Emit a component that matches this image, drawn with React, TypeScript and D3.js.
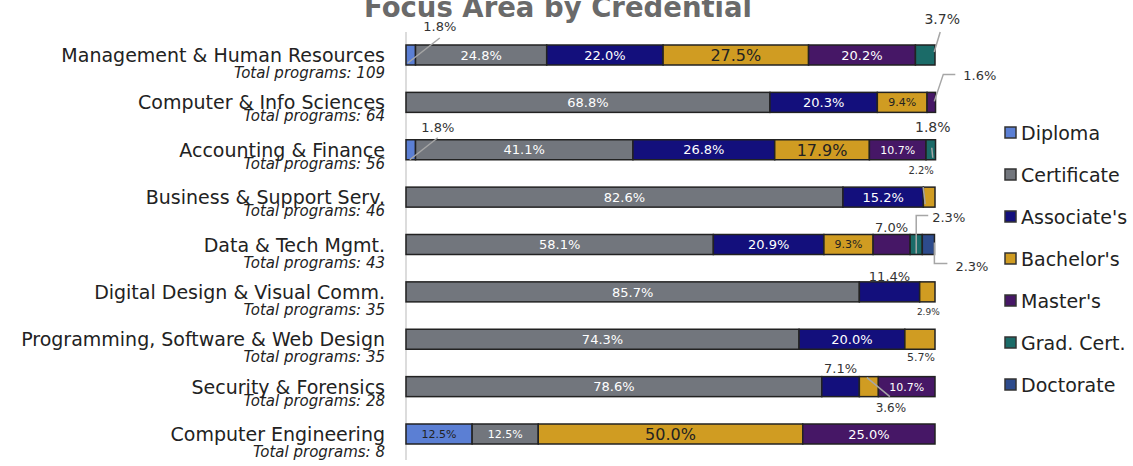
import React from "react";
import * as d3 from "d3";

const categories = [
  "Management & Human Resources",
  "Computer & Info Sciences",
  "Accounting & Finance",
  "Business & Support Serv.",
  "Data & Tech Mgmt.",
  "Digital Design & Visual Comm.",
  "Programming, Software & Web Design",
  "Security & Forensics",
  "Computer Engineering",
];
const totals = [109, 64, 56, 46, 43, 35, 35, 28, 8];
const seriesNames = ["Diploma", "Certificate", "Associate's", "Bachelor's", "Master's", "Grad. Cert.", "Doctorate"];
const diploma = [1.8, 0, 1.8, 0, 0, 0, 0, 0, 12.5];
const certificate = [24.8, 68.8, 41.1, 82.6, 58.1, 85.7, 74.3, 78.6, 12.5];
const associates = [22.0, 20.3, 26.8, 15.2, 20.9, 11.4, 20.0, 7.1, 0];
const bachelors = [27.5, 9.4, 17.9, 2.2, 9.3, 2.9, 5.7, 3.6, 50.0];
const masters = [20.2, 1.6, 10.7, 0, 7.0, 0, 0, 10.7, 25.0];
const gradCert = [3.7, 0, 1.8, 0, 2.3, 0, 0, 0, 0];
const doctorate = [0, 0, 0, 0, 2.3, 0, 0, 0, 0];
const seriesValues = [diploma, certificate, associates, bachelors, masters, gradCert, doctorate];
const colors = ["#5b7fd4", "#72767d", "#130f7c", "#d09c22", "#461766", "#1b6b68", "#2d4b8c"];
const darkText = [true, false, false, true, false, false, false];
// whether subtitle sits tight under the category label
const tightSub = [false, true, true, true, false, false, false, true, false];

type Ann = { c: number; s: number; tx: number; ty: number; anchor: string; fs: number; path?: [number, number][] };
const annotations: Ann[] = [
  { c: 0, s: 0, tx: 29, ty: -14, anchor: "middle", fs: 14, path: [[-3, 18], [29, -7]] },
  { c: 0, s: 5, tx: 17, ty: -21, anchor: "middle", fs: 15, path: [[9, 7], [15, -13]] },
  { c: 1, s: 4, tx: 32, ty: -12, anchor: "start", fs: 14, path: [[3, 9], [12, -18], [24, -18]] },
  { c: 2, s: 0, tx: 27, ty: -8, anchor: "middle", fs: 14, path: [[-1, 20], [27, -2]] },
  { c: 2, s: 5, tx: 2, ty: -8, anchor: "middle", fs: 15, path: [[1, 8], [2, 18]] },
  { c: 3, s: 3, tx: -8, ty: -13, anchor: "middle", fs: 11, path: [[-6, 0], [-4, 17]] },
  { c: 4, s: 5, tx: 16, ty: -13, anchor: "start", fs: 14, path: [[0, 19], [0, -19], [12, -19]] },
  { c: 4, s: 6, tx: 27, ty: 36, anchor: "start", fs: 14, path: [[6, 8], [6, 29], [19, 29]] },
  { c: 4, s: 4, tx: 0, ty: -3, anchor: "middle", fs: 14 },
  { c: 5, s: 2, tx: 0, ty: -1, anchor: "middle", fs: 14 },
  { c: 5, s: 3, tx: 1, ty: 33, anchor: "middle", fs: 10 },
  { c: 6, s: 3, tx: 1, ty: 32, anchor: "middle", fs: 12 },
  { c: 7, s: 2, tx: 0, ty: -4, anchor: "middle", fs: 14 },
  { c: 7, s: 3, tx: 22, ty: 35, anchor: "middle", fs: 13, path: [[-2, 1], [21, 20]] },
];

const FONT = "'DejaVu Sans', sans-serif";

export default function App() {
  const W = 1133, H = 466;
  const x = d3.scaleLinear().domain([0, 100]).range([406, 935]);
  const y = d3.scalePoint<string>().domain(categories).range([55, 434]);
  const barH = 20;

  const rows = categories.map((cat, i) => {
    let acc = 0;
    const segs = seriesValues.map((vals, s) => {
      const v = vals[i];
      const x0 = acc;
      acc += v;
      return { s, v, x0, x1: acc };
    });
    return { cat, i, segs };
  });

  const isAnnotated = (c: number, s: number) => annotations.some((a) => a.c === c && a.s === s);
  const inner = (v: number, s: number) => {
    if (s === 3 && v >= 15) return 16;
    if (v < 13) return 11;
    return 13;
  };

  return (
    <svg width={W} height={H} style={{ position: "absolute", left: 0, top: 0, background: "#fff" }} fontFamily={FONT}>
      <text x={558} y={17} textAnchor="middle" fontSize={27.5} fontWeight="bold" fill="#6a6a6a">Focus Area by Credential</text>
      <line x1={406} x2={406} y1={32} y2={460} stroke="#d0d0d0" strokeWidth={1.5} />
      {rows.map((r) => {
        const cy = y(r.cat)!;
        const top = cy - barH / 2;
        return (
          <g key={r.cat}>
            <text x={385} y={cy + 7} textAnchor="end" fontSize={19} fill="#222">{r.cat}</text>
            <text x={385} y={cy + (tightSub[r.i] ? 19 : 23)} textAnchor="end" fontSize={15} fontStyle="italic" fill="#222">{`Total programs: ${totals[r.i]}`}</text>
            {r.segs.filter((sg) => sg.v > 0).map((sg) => (
              <rect key={sg.s} x={x(sg.x0)} y={top} width={x(sg.x1) - x(sg.x0)} height={barH} fill={colors[sg.s]} stroke="#222" strokeWidth={1.5} />
            ))}
            {r.segs.filter((sg) => sg.v >= 9 && !isAnnotated(r.i, sg.s)).map((sg) => (
              <text key={"t" + sg.s} x={(x(sg.x0) + x(sg.x1)) / 2} y={cy} dy="0.36em" textAnchor="middle" fontSize={inner(sg.v, sg.s)} fill={darkText[sg.s] ? "#222" : "#fff"}>{sg.v.toFixed(1) + "%"}</text>
            ))}
          </g>
        );
      })}
      {annotations.map((a, k) => {
        const r = rows[a.c];
        const sg = r.segs[a.s];
        const xm = (x(sg.x0) + x(sg.x1)) / 2;
        const top = y(r.cat)! - barH / 2;
        const line = d3.line();
        return (
          <g key={"a" + k}>
            {a.path && <path d={line(a.path.map(([dx, dy]) => [xm + dx, top + dy]))!} fill="none" stroke="#a6a6a6" strokeWidth={1.5} />}
            <text x={xm + a.tx} y={top + a.ty} textAnchor={a.anchor} fontSize={a.fs - 1} fill="#333">{sg.v.toFixed(1) + "%"}</text>
          </g>
        );
      })}
      {seriesNames.map((n, s) => (
        <g key={n}>
          <rect x={1005} y={127 + s * 42} width={11} height={11} fill={colors[s]} stroke="#333" strokeWidth={1.5} />
          <text x={1021} y={140 + s * 42} fontSize={19} fill="#222">{n}</text>
        </g>
      ))}
    </svg>
  );
}
